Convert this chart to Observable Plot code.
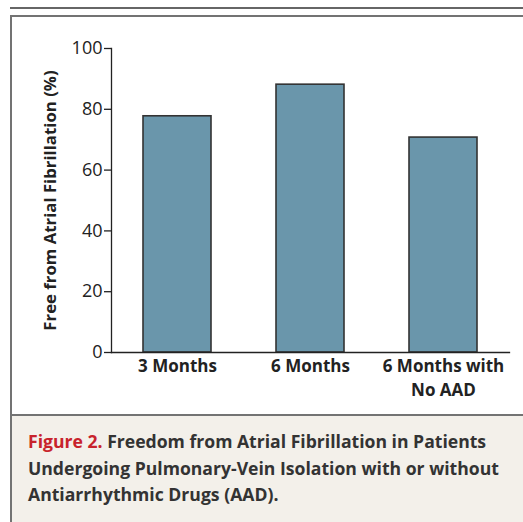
<!DOCTYPE html>
<html>
<head>
<meta charset="utf-8">
<script src="https://cdn.jsdelivr.net/npm/d3@7"></script>
<script src="https://cdn.jsdelivr.net/npm/@observablehq/plot@0.6"></script>
<style>
  body { margin: 0; background: #fff; }
  #wrap { position: relative; width: 523px; height: 522px; overflow: hidden; background: #fff; }
  #topline { position: absolute; left: 10px; top: 7px; width: 513px; height: 2px; background: #666; }
  #box { position: absolute; left: 10px; top: 15px; width: 530px; height: 530px; border-top: 2px solid #737373; border-left: 2px solid #737373; box-sizing: border-box; }
  #chart { position: absolute; left: 12px; top: 17px; }
  #cap { position: absolute; left: 12px; top: 414px; width: 511px; height: 108px; background: #f3f0ea; border-top: 2px solid #737373; box-sizing: border-box;
         padding: 12px 0 0 16px; font-family: "Open Sans", sans-serif; font-weight: 700; font-size: 17.6px; line-height: 26.5px; color: #333; white-space: nowrap; }
  #cap .fig { color: #c8232c; }
</style>
</head>
<body>
<div id="wrap">
  <div id="topline"></div>
  <div id="box"></div>
  <div id="chart"></div>
  <div id="cap"><span class="fig">Figure 2.</span> Freedom from Atrial Fibrillation in Patients<br>Undergoing Pulmonary-Vein Isolation with or without<br>Antiarrhythmic Drugs (AAD).</div>
</div>
<script>
const categories = ["3 Months", "6 Months", "6 Months with\nNo AAD"];
const values = [77.7, 88.1, 70.7];
const yTicks = [0, 20, 40, 60, 80, 100];
const yLabel = "Free from Atrial Fibrillation (%)";

const data = categories.map((c, i) => ({category: c, value: values[i]}));

const chart = Plot.plot({
  width: 511,
  height: 397,
  marginLeft: 99,
  marginRight: 14,
  marginTop: 31,
  marginBottom: 62,
  style: {fontFamily: "'Open Sans', sans-serif", fontSize: "16px", color: "#222", background: "transparent", overflow: "visible"},
  x: {domain: categories, paddingInner: 0.49, paddingOuter: 0.24, label: null},
  y: {domain: [0, 100], label: null},
  marks: [
    Plot.barY(data, {x: "category", y: "value", fill: "#6a96ab", stroke: "#333", strokeWidth: 1.6}),
    Plot.frame({anchor: "left", stroke: "#222", strokeWidth: 1.3}),
    Plot.frame({anchor: "bottom", stroke: "#222", strokeWidth: 1.3}),
    Plot.axisY({ticks: yTicks, tickSize: 7, tickPadding: 2, label: null, stroke: "#222", strokeWidth: 1.3, fontSize: 18}),
    Plot.axisX({tickSize: 0, tickPadding: 3, label: null, fontWeight: "bold", fontSize: 17, lineHeight: 1.4}),
    Plot.text([yLabel], {frameAnchor: "left", textAnchor: "middle", rotate: -90, dx: -61, fontWeight: "bold", fontSize: 16.8, fill: "#222"})
  ]
});
document.getElementById("chart").appendChild(chart);
</script>
</body>
</html>
